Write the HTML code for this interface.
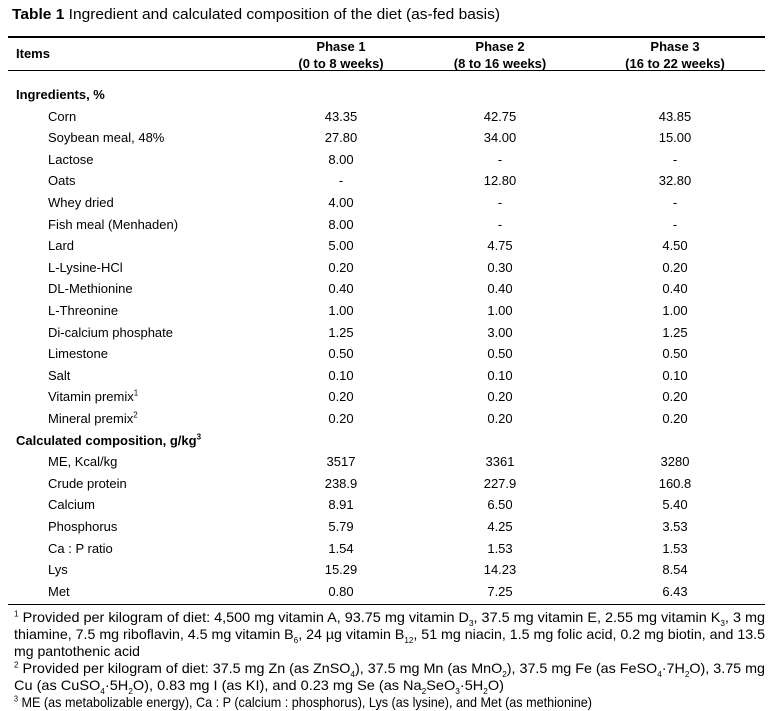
<!DOCTYPE html>
<html><head><meta charset="utf-8"><style>
body{margin:0;width:781px;height:710px;background:#fff;font-family:"Liberation Sans",Arial,sans-serif;color:#000;font-size:13px;position:relative;overflow:hidden}
.a{position:absolute;white-space:nowrap;line-height:16px}
.c{transform:translateX(-50%)}
.hl{position:absolute;left:8px;width:757px;background:#000}
.fl{position:absolute;left:14px;white-space:nowrap;line-height:17px;font-size:14px;transform-origin:0 0}
b{font-weight:bold}
sup{font-size:8px;line-height:0}
sub{font-size:8px;line-height:0}
</style></head><body>
<div class="fl" style="left:12px;top:6px;font-size:15px" data-w="488"><b>Table 1</b> Ingredient and calculated composition of the diet (as-fed basis)</div>
<div class="hl" style="top:36px;height:2px"></div>
<div class="a" style="left:16px;top:46px;font-weight:bold">Items</div>
<div class="a c" style="left:341px;top:38px;font-weight:bold;text-align:center;line-height:17px">Phase 1<br>(0 to 8 weeks)</div>
<div class="a c" style="left:500px;top:38px;font-weight:bold;text-align:center;line-height:17px">Phase 2<br>(8 to 16 weeks)</div>
<div class="a c" style="left:675px;top:38px;font-weight:bold;text-align:center;line-height:17px">Phase 3<br>(16 to 22 weeks)</div>
<div class="hl" style="top:70px;height:1px"></div>
<div id="rows"></div>
<div class="hl" style="top:604px;height:1px"></div>
<div>
<div class="fl" style="top:609px" data-w="751"><sup>1</sup> Provided per kilogram of diet: 4,500 mg vitamin A, 93.75 mg vitamin D<sub>3</sub>, 37.5 mg vitamin E, 2.55 mg vitamin K<sub>3</sub>, 3 mg</div>
<div class="fl" style="top:626px" data-w="751">thiamine, 7.5 mg riboflavin, 4.5 mg vitamin B<sub>6</sub>, 24 µg vitamin B<sub>12</sub>, 51 mg niacin, 1.5 mg folic acid, 0.2 mg biotin, and 13.5</div>
<div class="fl" style="top:643px" data-w="126">mg pantothenic acid</div>
</div>
<div>
<div class="fl" style="top:660px" data-w="751"><sup>2</sup> Provided per kilogram of diet: 37.5 mg Zn (as ZnSO<sub>4</sub>), 37.5 mg Mn (as MnO<sub>2</sub>), 37.5 mg Fe (as FeSO<sub>4</sub>·7H<sub>2</sub>O), 3.75 mg</div>
<div class="fl" style="top:677px" data-w="490">Cu (as CuSO<sub>4</sub>·5H<sub>2</sub>O), 0.83 mg I (as KI), and 0.23 mg Se (as Na<sub>2</sub>SeO<sub>3</sub>·5H<sub>2</sub>O)</div>
</div>
<div class="fl" style="top:694px" data-w="578"><sup>3</sup> ME (as metabolizable energy), Ca : P (calcium : phosphorus), Lys (as lysine), and Met (as methionine)</div>
<script>
const labels=["Ingredients, %","Corn","Soybean meal, 48%","Lactose","Oats","Whey dried","Fish meal (Menhaden)","Lard","L-Lysine-HCl","DL-Methionine","L-Threonine","Di-calcium phosphate","Limestone","Salt","Vitamin premix¹","Mineral premix²","Calculated composition, g/kg³","ME, Kcal/kg","Crude protein","Calcium","Phosphorus","Ca : P ratio","Lys","Met"];
const phase1=["","43.35","27.80","8.00","-","4.00","8.00","5.00","0.20","0.40","1.00","1.25","0.50","0.10","0.20","0.20","","3517","238.9","8.91","5.79","1.54","15.29","0.80"];
const phase2=["","42.75","34.00","-","12.80","-","-","4.75","0.30","0.40","1.00","3.00","0.50","0.10","0.20","0.20","","3361","227.9","6.50","4.25","1.53","14.23","7.25"];
const phase3=["","43.85","15.00","-","32.80","-","-","4.50","0.20","0.40","1.00","1.25","0.50","0.10","0.20","0.20","","3280","160.8","5.40","3.53","1.53","8.54","6.43"];
const root=document.getElementById('rows');
labels.forEach((l,i)=>{
 const y=95+i*21.6-8;
 const head=(i===0||i===16);
 const d=document.createElement('div');
 d.className='a';
 d.style.left=(head?16:48)+'px';d.style.top=y+'px';
 if(head)d.style.fontWeight='bold';
 d.innerHTML=l.replace('¹','<sup>1</sup>').replace('²','<sup>2</sup>').replace('³','<sup>3</sup>');
 
 
 root.appendChild(d);
 [[phase1,341],[phase2,500],[phase3,675]].forEach(([arr,x])=>{
  if(!arr[i])return;
  const c=document.createElement('div');
  c.className='a c';c.style.left=x+'px';c.style.top=y+'px';c.textContent=arr[i];
  
  
  root.appendChild(c);
 });
});
document.querySelectorAll('.fl').forEach(e=>{
 const w=e.getBoundingClientRect().width;
 const t=+e.getAttribute('data-w');
 if(w>0&&t)e.style.transform='scaleX('+(t/w)+')';
});
</script>
</body></html>
